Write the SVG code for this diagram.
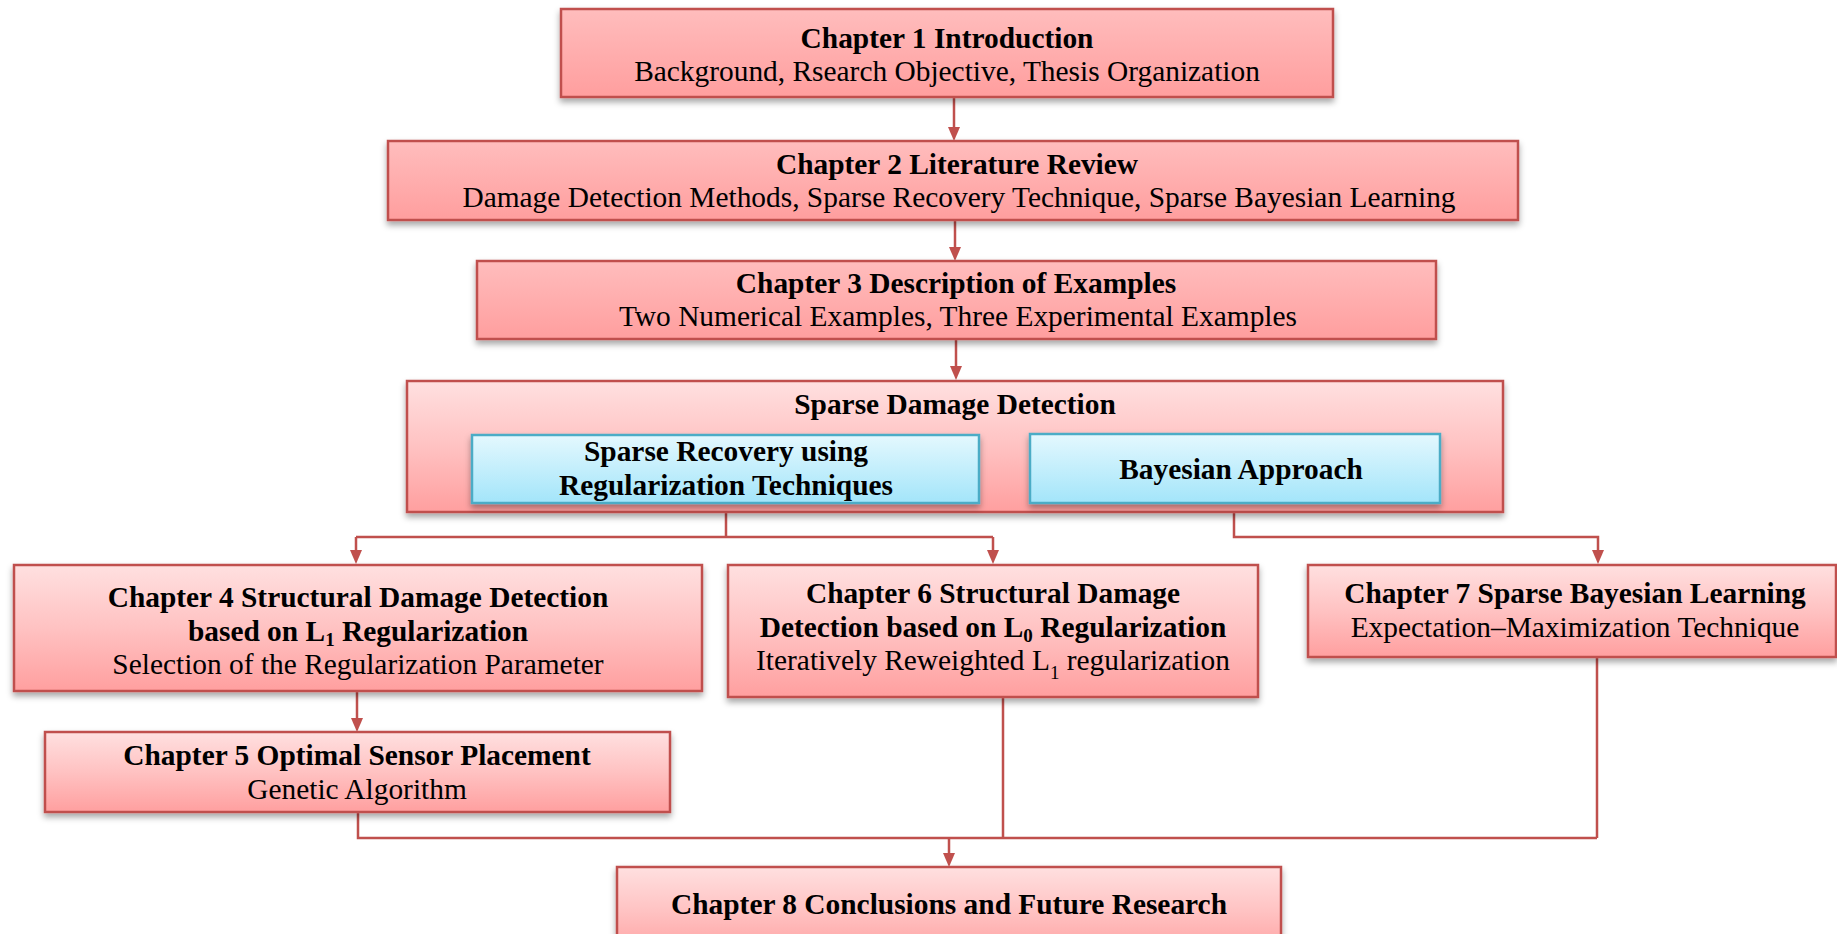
<svg xmlns="http://www.w3.org/2000/svg" width="1837" height="934" viewBox="0 0 1837 934">
<defs>
<linearGradient id="gRed" x1="0" y1="0" x2="0" y2="1">
<stop offset="0" stop-color="#ffe0e0"/><stop offset="0.5" stop-color="#ffc2c2"/><stop offset="1" stop-color="#ff9f9f"/>
</linearGradient>
<linearGradient id="gRed2" x1="0" y1="0" x2="0" y2="1">
<stop offset="0" stop-color="#ffbdbd"/><stop offset="1" stop-color="#ff9e9e"/>
</linearGradient>
<linearGradient id="gBlue" x1="0" y1="0" x2="0" y2="1">
<stop offset="0" stop-color="#e4f8fe"/><stop offset="1" stop-color="#a3e5fa"/>
</linearGradient>
<filter id="sh" x="-5%" y="-10%" width="110%" height="130%">
<feDropShadow dx="0" dy="4" stdDeviation="3" flood-color="#000" flood-opacity="0.35"/>
</filter>
</defs>
<style>
.r{fill:url(#gRed);stroke:#c0504d;stroke-width:2.5;filter:url(#sh)}
.r2{fill:url(#gRed2);stroke:#c0504d;stroke-width:2.5;filter:url(#sh)}
.b{fill:url(#gBlue);stroke:#4bacc6;stroke-width:2.5;filter:url(#sh)}
.c{fill:none;stroke:#c0504d;stroke-width:2.5}
.a{fill:#c0504d}
text{font-family:"Liberation Serif","Times New Roman",serif;font-size:29.4px;fill:#000;text-anchor:middle}
.t{font-weight:bold}
</style>
<rect width="1837" height="934" fill="#fff"/>
<g id="connectors">
<path class="c" d="M954 97 V127"/><path class="a" d="M948 127 L960 127 L954 141 Z"/>
<path class="c" d="M955 220 V247"/><path class="a" d="M949 247 L961 247 L955 261 Z"/>
<path class="c" d="M956 339 V366"/><path class="a" d="M950 366 L962 366 L956 380 Z"/>
<path class="c" d="M726 512 V537 M356 537 H993 M356 537 V550 M993 537 V550"/>
<path class="a" d="M350 550 L362 550 L356 564 Z"/>
<path class="a" d="M987 550 L999 550 L993 564 Z"/>
<path class="c" d="M1234 512 V537 H1598 V550"/>
<path class="a" d="M1592 550 L1604 550 L1598 564 Z"/>
<path class="c" d="M357 691 V718"/><path class="a" d="M351 718 L363 718 L357 732 Z"/>
<path class="c" d="M358 812 V838 H1597 M1003 697 V838 M1597 657 V838 M949 838 V853"/>
<path class="a" d="M943 853 L955 853 L949 867 Z"/>
</g>
<g id="ch1">
<rect class="r2" x="561" y="9" width="772" height="88"/>
<text class="t" x="947" y="48">Chapter 1 Introduction</text>
<text x="947" y="81">Background, Rsearch Objective, Thesis Organization</text>
</g>
<g id="ch2">
<rect class="r2" x="388" y="141" width="1130" height="79"/>
<text class="t" x="957" y="174">Chapter 2 Literature Review</text>
<text x="959" y="207">Damage Detection Methods, Sparse Recovery Technique, Sparse Bayesian Learning</text>
</g>
<g id="ch3">
<rect class="r2" x="477" y="261" width="959" height="78"/>
<text class="t" x="956" y="293">Chapter 3 Description of Examples</text>
<text x="958" y="326">Two Numerical Examples, Three Experimental Examples</text>
</g>
<g id="sdd">
<rect class="r" x="407" y="381" width="1096" height="131"/>
<text class="t" x="955" y="414">Sparse Damage Detection</text>
</g>
<g id="sparse-recovery">
<rect class="b" x="472" y="435" width="507" height="68"/>
<text class="t" x="726" y="461">Sparse Recovery using</text>
<text class="t" x="726" y="495">Regularization Techniques</text>
</g>
<g id="bayesian">
<rect class="b" x="1030" y="434" width="410" height="69"/>
<text class="t" x="1241" y="479">Bayesian Approach</text>
</g>
<g id="ch4">
<rect class="r" x="14" y="565" width="688" height="126"/>
<text class="t" x="358" y="607">Chapter 4 Structural Damage Detection</text>
<text class="t" x="358" y="641">based on L<tspan font-size="19" dy="5">1</tspan><tspan dy="-5"> Regularization</tspan></text>
<text x="358" y="674">Selection of the Regularization Parameter</text>
</g>
<g id="ch5">
<rect class="r" x="45" y="732" width="625" height="80"/>
<text class="t" x="357" y="765">Chapter 5 Optimal Sensor Placement</text>
<text x="357" y="799">Genetic Algorithm</text>
</g>
<g id="ch6">
<rect class="r" x="728" y="565" width="530" height="132"/>
<text class="t" x="993" y="603">Chapter 6 Structural Damage</text>
<text class="t" x="993" y="637">Detection based on L<tspan font-size="19" dy="5">0</tspan><tspan dy="-5"> Regularization</tspan></text>
<text x="993" y="670">Iteratively Reweighted L<tspan font-size="19" dy="9">1</tspan><tspan dy="-9"> regularization</tspan></text>
</g>
<g id="ch7">
<rect class="r" x="1308" y="565" width="528" height="92"/>
<text class="t" x="1575" y="603">Chapter 7 Sparse Bayesian Learning</text>
<text x="1575" y="637">Expectation–Maximization Technique</text>
</g>
<g id="ch8">
<rect class="r" x="617" y="867" width="664" height="90"/>
<text class="t" x="949" y="914">Chapter 8 Conclusions and Future Research</text>
</g>
</svg>
